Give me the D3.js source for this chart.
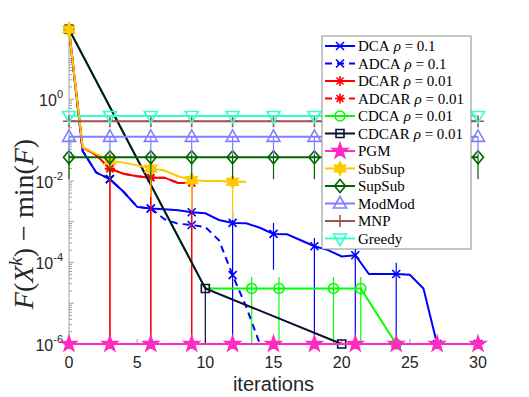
<html>
<style>
body { margin: 0; background: #fff; }
svg { display: block; }
.tick text { font-family: "Liberation Sans", Arial, sans-serif; font-size: 16px; fill: #262626; }
.legend text { font-family: "Liberation Serif", "DejaVu Serif", serif; font-size: 15px; fill: #000; }
</style>
<svg width="529" height="397"></svg>
<script src="https://d3js.org/d3.v7.min.js"></script>
<script>

// iterations 0..30 and the ones carrying markers
var iters = d3.range(0, 31);
var markIters = [0, 3, 6, 9, 12, 15, 18, 21, 24, 27, 30];

var dcaVals = [52, 0.054, 0.016, 0.011, 0.0054, 0.0023, 0.0021, 0.0020, 0.0019, 0.0017, 0.0016, 0.0011,
  9.3e-4, 9.1e-4, 7.1e-4, 5.0e-4, 4.9e-4, 3.5e-4, 2.5e-4, 2.0e-4, 1.4e-4, 1.5e-4,
  5.2e-5, 5.2e-5, 5.2e-5, 5.0e-5, 2.3e-5, 1e-6, 1e-6, 1e-6, 1e-6];
var adcaVals = [52, 0.054, 0.016, 0.011, 0.0054, 0.0023, 0.0021, 1.15e-3, 8.9e-4, 8.3e-4, 7.4e-4, 3.5e-4,
  4.9e-5, 8.1e-6, 1e-6];
var dcarVals = [52, 0.066, 0.043, 0.020, 0.015, 0.013, 0.012, 0.012, 0.0089, 0.0089];
var adcarVals = [52, 0.066, 0.043, 0.020, 0.015, 0.013, 0.012, 0.012, 0.0089, 0.0089];
var cdcaIters = [0, 10, 13.4, 15.4, 19.4, 21.4, 24];
var cdcaVals = [52, 2.3e-5, 2.3e-5, 2.3e-5, 2.3e-5, 2.3e-5, 1e-6];
var cdcarIters = [0, 10, 20];
var cdcarVals = [52, 2.3e-5, 1e-6];
var pgmVals = [1e-6, 1e-6, 1e-6, 1e-6, 1e-6, 1e-6, 1e-6, 1e-6, 1e-6, 1e-6, 1e-6];
var subsupVals = [52, 0.066, 0.046, 0.031, 0.028, 0.024, 0.020, 0.018, 0.013, 0.0105, 0.0099, 0.0099, 0.0095, 0.0095];
var supsubVals = [0.038, 0.038, 0.038, 0.038, 0.038, 0.038, 0.038, 0.038, 0.038, 0.038, 0.038];
var modmodVals = [0.12, 0.12, 0.12, 0.12, 0.12, 0.12, 0.12, 0.12, 0.12, 0.12, 0.12];
var mnpVals = [0.29, 0.29, 0.29, 0.29, 0.29, 0.29, 0.29, 0.29, 0.29, 0.29, 0.29];
var greedyVals = [0.39, 0.39, 0.39, 0.39, 0.39, 0.39, 0.39, 0.39, 0.39, 0.39, 0.39];

// vertical spread bars (low / high)
var dcaBarIters = [12, 15, 18, 21, 24];
var dcaBarLo = [1e-6, 6.6e-5, 1e-6, 1e-6, 1e-6];
var dcaBarHi = [1.7e-3, 9.3e-4, 4.0e-4, 6.3e-4, 9.8e-5];
var dcarBarIters = [3, 6, 9];
var dcarBarLo = [1e-6, 1e-6, 1e-6];
var dcarBarHi = [0.021, 0.013, 0.0095];
var cdcaBarIters = [13.4, 15.4, 19.4, 21.4];
var cdcaBarLo = [1e-6, 1e-6, 1e-6, 1e-6];
var cdcaBarHi = [4.4e-5, 4.4e-5, 4.4e-5, 4.4e-5];
var cdcarBarIters = [10];
var cdcarBarLo = [1e-6];
var cdcarBarHi = [2.6e-5];
var subsupBarIters = [6, 9, 12];
var subsupBarLo = [4.0e-3, 1.9e-3, 1.1e-3];
var subsupBarHi = [0.022, 0.012, 0.011];
var supsubBarLo = [0.011, 0.011, 0.011, 0.011, 0.011, 0.011, 0.011, 0.011, 0.011, 0.011, 0.011];
var supsubBarHi = [0.045, 0.045, 0.045, 0.045, 0.045, 0.045, 0.045, 0.045, 0.045, 0.045, 0.045];
var modmodBarLo = [0.045, 0.045, 0.045, 0.045, 0.045, 0.045, 0.045, 0.045, 0.045, 0.045, 0.045];
var modmodBarHi = [0.12, 0.12, 0.12, 0.12, 0.12, 0.12, 0.12, 0.12, 0.12, 0.12, 0.12];

var xTicks = [0, 5, 10, 15, 20, 25, 30];
var yLabelExps = [-6, -4, -2, 0];

function bars(xs, lo, hi) {
  return xs.map(function(d, i) { return {x: d, lo: lo[i], hi: hi[i]}; });
}

var series = [
  {name: "DCA", rho: "0.1", xs: iters.slice(0, dcaVals.length), ys: dcaVals, color: "#0000ff", dash: null, marker: "x",
   marks: markIters, bars: bars(dcaBarIters, dcaBarLo, dcaBarHi)},
  {name: "ADCA", rho: "0.1", xs: iters.slice(0, adcaVals.length), ys: adcaVals, color: "#0000ff", dash: "7,5", marker: "x",
   marks: [0, 3, 6, 9, 12], bars: []},
  {name: "DCAR", rho: "0.01", xs: iters.slice(0, dcarVals.length), ys: dcarVals, color: "#ff0000", dash: null, marker: "*",
   marks: [0, 3, 6, 9], bars: bars(dcarBarIters, dcarBarLo, dcarBarHi)},
  {name: "ADCAR", rho: "0.01", xs: iters.slice(0, adcarVals.length), ys: adcarVals, color: "#ff0000", dash: "7,5", marker: "*",
   marks: [0, 3, 6, 9], bars: bars(dcarBarIters, dcarBarLo, dcarBarHi)},
  {name: "CDCA", rho: "0.01", xs: cdcaIters, ys: cdcaVals, color: "#00ff00", dash: null, marker: "o",
   marks: [0, 13.4, 15.4, 19.4, 21.4, 24], bars: bars(cdcaBarIters, cdcaBarLo, cdcaBarHi)},
  {name: "CDCAR", rho: "0.01", xs: cdcarIters, ys: cdcarVals, color: "#0d0d33", dash: null, marker: "s",
   marks: cdcarIters, bars: bars(cdcarBarIters, cdcarBarLo, cdcarBarHi)},
  {name: "PGM", rho: null, xs: markIters, ys: pgmVals, color: "#ff2bc2", dash: null, marker: "p",
   marks: markIters, bars: []},
  {name: "SubSup", rho: null, xs: iters.slice(0, subsupVals.length), ys: subsupVals, color: "#ffc800", dash: null, marker: "h",
   marks: [0, 3, 6, 9, 12], bars: bars(subsupBarIters, subsupBarLo, subsupBarHi)},
  {name: "SupSub", rho: null, xs: markIters, ys: supsubVals, color: "#006400", dash: null, marker: "d",
   marks: markIters, bars: bars(markIters, supsubBarLo, supsubBarHi)},
  {name: "ModMod", rho: null, xs: markIters, ys: modmodVals, color: "#8080ff", dash: null, marker: "^",
   marks: markIters, bars: bars(markIters, modmodBarLo, modmodBarHi)},
  {name: "MNP", rho: null, xs: markIters, ys: mnpVals, color: "#a0524d", dash: null, marker: "+",
   marks: markIters, bars: []},
  {name: "Greedy", rho: null, xs: markIters, ys: greedyVals, color: "#33ffcc", dash: null, marker: "v",
   marks: markIters, bars: []}
];

var svg = d3.select("svg"),
    margin = {top: 28, right: 51, bottom: 53, left: 69},
    width = +svg.attr("width") - margin.left - margin.right,
    height = +svg.attr("height") - margin.top - margin.bottom,
    g = svg.append("g").attr("transform", "translate(" + margin.left + "," + margin.top + ")");

var x = d3.scaleLinear().domain([0, 30]).range([0, width]);
var y = d3.scaleLog().domain([1e-6, 56]).range([height, 0]);

function star(n, R, r) {
  var p = [];
  for (var i = 0; i < 2 * n; i++) {
    var a = -Math.PI / 2 + i * Math.PI / n, rr = i % 2 ? r : R;
    p.push([rr * Math.cos(a), rr * Math.sin(a)]);
  }
  return "M" + p.join("L") + "Z";
}

function markerPath(t) {
  switch (t) {
    case "x": return "M-4,-4L4,4M-4,4L4,-4";
    case "*": return "M-5,0L5,0M0,-5L0,5M-3.5,-3.5L3.5,3.5M-3.5,3.5L3.5,-3.5";
    case "o": return "M5,0A5,5 0 1,1 -5,0A5,5 0 1,1 5,0Z";
    case "s": return "M-4,-4H4V4H-4Z";
    case "p": return star(5, 8, 3.2);
    case "h": return star(6, 6.5, 3.6);
    case "d": return "M0,-6.5L5.5,0L0,6.5L-5.5,0Z";
    case "^": return "M0,-7L6.5,4.5L-6.5,4.5Z";
    case "v": return "M0,7L6.5,-4.5L-6.5,-4.5Z";
    case "+": return "M-6,0L6,0M0,-6L0,6";
  }
}
var filled = {p: true, h: true};

// axes
var axis = g.append("g").attr("class", "axis");
axis.append("line").attr("x1", 0).attr("x2", width).attr("y1", height).attr("y2", height)
    .attr("stroke", "#a0a0a0");
axis.append("line").attr("x1", 0).attr("x2", 0).attr("y1", 0).attr("y2", height)
    .attr("stroke", "#a0a0a0");

xTicks.forEach(function(t) {
  var tk = axis.append("g").attr("class", "tick").attr("transform", "translate(" + x(t) + "," + height + ")");
  tk.append("line").attr("y2", -5).attr("stroke", "#a0a0a0");
  tk.append("text").attr("y", 24).attr("text-anchor", "middle").text(t);
});

for (var e = -6; e <= 1; e++) {
  for (var m = 1; m <= 9; m++) {
    var v = m * Math.pow(10, e);
    if (v > y.domain()[1]) break;
    var major = (m === 1);
    axis.append("line").attr("x1", 0).attr("x2", major ? 5 : 3)
        .attr("y1", y(v)).attr("y2", y(v)).attr("stroke", "#a0a0a0");
  }
}
yLabelExps.forEach(function(e) {
  var tk = axis.append("g").attr("class", "tick").attr("transform", "translate(-6," + y(Math.pow(10, e)) + ")");
  var t = tk.append("text").attr("text-anchor", "end").attr("y", 7);
  t.append("tspan").text("10");
  t.append("tspan").attr("dy", -8).attr("font-size", "11px").text(e === 0 ? "0" : "-" + (-e));
});

svg.append("text")
    .attr("x", 273.5).attr("y", 391)
    .attr("text-anchor", "middle")
    .style("font-family", "'Liberation Sans', Arial, sans-serif")
    .style("font-size", "20px").style("fill", "#262626")
    .text("iterations");

var yl = svg.append("text")
    .attr("transform", "translate(33,224) rotate(-90)")
    .attr("text-anchor", "middle")
    .style("font-family", "'Liberation Serif', 'DejaVu Serif', serif")
    .style("font-size", "28px").style("fill", "#262626");
yl.append("tspan").style("font-style", "italic").text("F");
yl.append("tspan").text("(");
yl.append("tspan").style("font-style", "italic").text("X");
yl.append("tspan").style("font-style", "italic").attr("dy", -11).style("font-size", "19px").text("k");
yl.append("tspan").attr("dy", 11).text(") \u2212 min(");
yl.append("tspan").style("font-style", "italic").text("F");
yl.append("tspan").text(")");

// series
var line = d3.line().x(function(d) { return x(d[0]); }).y(function(d) { return y(d[1]); });

series.forEach(function(s) {
  var sg = g.append("g");
  sg.selectAll("line.bar").data(s.bars).enter().append("line")
      .attr("class", "bar")
      .attr("x1", function(d) { return x(d.x); }).attr("x2", function(d) { return x(d.x); })
      .attr("y1", function(d) { return y(d.lo); }).attr("y2", function(d) { return y(d.hi); })
      .attr("stroke", s.color).attr("stroke-width", 1.2);
  sg.append("path")
      .datum(s.xs.map(function(d, i) { return [d, s.ys[i]]; }))
      .attr("d", line)
      .attr("fill", "none")
      .attr("stroke", s.color)
      .attr("stroke-width", 2)
      .attr("stroke-dasharray", s.dash);
  sg.selectAll("path.mk").data(s.marks).enter().append("path")
      .attr("class", "mk")
      .attr("d", markerPath(s.marker))
      .attr("transform", function(d) { return "translate(" + x(d) + "," + y(s.ys[s.xs.indexOf(d)]) + ")"; })
      .attr("fill", filled[s.marker] ? s.color : "none")
      .attr("stroke", s.color)
      .attr("stroke-width", 1.6);
});

// legend
var lg = svg.append("g").attr("class", "legend").attr("transform", "translate(322,36)");
lg.append("rect").attr("width", 149).attr("height", 213)
    .attr("fill", "#fff").attr("stroke", "#8c8c8c");
series.forEach(function(s, i) {
  var ry = 10 + i * 17.5;
  lg.append("line").attr("x1", 3).attr("x2", 33).attr("y1", ry).attr("y2", ry)
      .attr("stroke", s.color).attr("stroke-width", 2).attr("stroke-dasharray", s.dash);
  lg.append("path").attr("d", markerPath(s.marker))
      .attr("transform", "translate(18," + ry + ")")
      .attr("fill", filled[s.marker] ? s.color : "none")
      .attr("stroke", s.color).attr("stroke-width", 1.6);
  var t = lg.append("text").attr("x", 36).attr("y", ry + 5);
  t.append("tspan").text(s.name);
  if (s.rho) {
    t.append("tspan").attr("dx", 4).style("font-style", "italic").text("\u03c1");
    t.append("tspan").text(" = " + s.rho);
  }
});

</script>
</html>
